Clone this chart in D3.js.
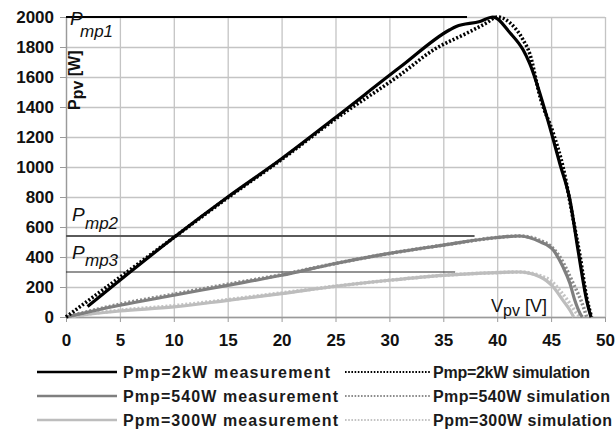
<!DOCTYPE html>
<html>
<head>
<meta charset="utf-8">
<script src="https://cdn.jsdelivr.net/npm/d3@7"></script>
<style>
  body { margin: 0; background: #fff; }
  svg { display: block; }
</style>
</head>
<body>
<div id="chart"></div>
<script>
// Voltage / power pairs
const meas2kV = [2, 5, 10, 15, 20, 25, 31, 35.6, 36.2, 38.4, 39.6, 41.2, 42.4, 43, 44.6, 45.8, 46.75, 47.5, 48.3, 48.6, 48.7];
const meas2kP = [70, 245, 530, 800, 1055, 1330, 1666, 1915, 1937, 1970, 2000, 1893, 1781, 1692, 1336, 1025, 779, 445, 111, 24, 0];

const sim2kV = [0, 5, 10, 15, 20, 25, 31, 34.1, 37.2, 39, 40, 41.2, 42.4, 43, 44, 45.2, 46.1, 47.05, 47.7, 48.3, 48.75];
const sim2kP = [0, 265, 530, 795, 1050, 1320, 1615, 1781, 1893, 1960, 2000, 1960, 1848, 1759, 1460, 1225, 1002, 650, 400, 130, 0];

const meas540V = [0, 5, 10, 15, 20, 25, 30, 35, 40, 42, 44, 45.2, 46.1, 46.75, 47.2, 47.7, 47.9];
const meas540P = [0, 78, 145, 211, 278, 357, 424, 479, 530, 540, 501, 446, 334, 223, 111, 22, 0];

const sim540V = [0, 5, 10, 15, 20, 25, 30, 35, 40, 42, 44, 45, 45.8, 47.05, 48, 48.3];
const sim540P = [0, 85, 152, 218, 282, 357, 424, 479, 530, 540, 510, 470, 401, 223, 67, 0];

const meas300V = [0, 5, 10, 15, 20, 25, 30, 35, 40, 42, 44, 45.2, 46.1, 46.75, 47.1];
const meas300P = [0, 40, 67, 111, 156, 205, 245, 278, 296, 300, 267, 200, 111, 45, 0];

const sim300V = [0, 5, 10, 15, 20, 25, 30, 35, 40, 42, 44, 45, 45.8, 46.75, 47.4, 47.7];
const sim300P = [0, 45, 75, 115, 160, 205, 245, 278, 296, 300, 275, 240, 178, 89, 22, 0];

const seriesNames = [
  "Pmp=2kW measurement", "Pmp=2kW simulation",
  "Pmp=540W measurement", "Pmp=540W simulation",
  "Ppm=300W measurement", "Ppm=300W simulation"
];

// horizontal P_mp marker lines: level and where they stop (V)
const pmpLevels = [2000, 540, 300];
const pmpEnds = [37.2, 37.9, 36.1];
const pmpSubs = ["mp1", "mp2", "mp3"];

const xTicks = d3.range(0, 51, 5);
const yTicks = d3.range(0, 2001, 200);

const W = 615, H = 432;
const plot = { left: 66, right: 605, top: 17, bottom: 317 };

const svg = d3.select("#chart").append("svg")
  .attr("width", W)
  .attr("height", H);

const x = d3.scaleLinear().domain([0, 50]).range([plot.left, plot.right]);
const y = d3.scaleLinear().domain([0, 2000]).range([plot.bottom, plot.top]);

const gridColor = "#c4c4c4";
const tickFont = "'Liberation Sans', Arial, sans-serif";

// Grid
svg.append("g")
  .attr("transform", `translate(0, ${plot.bottom})`)
  .call(d3.axisBottom(x).tickValues(xTicks).tickSize(-(plot.bottom - plot.top)).tickFormat(""))
  .call(g => g.select(".domain").remove())
  .call(g => g.selectAll("line").attr("stroke", gridColor).attr("stroke-width", 1.3));

svg.append("g")
  .attr("transform", `translate(${plot.left}, 0)`)
  .call(d3.axisLeft(y).tickValues(yTicks).tickSize(-(plot.right - plot.left)).tickFormat(""))
  .call(g => g.select(".domain").remove())
  .call(g => g.selectAll("line").attr("stroke", gridColor).attr("stroke-width", 1.3));

// Axes
svg.append("g")
  .attr("transform", `translate(0, ${plot.bottom})`)
  .call(d3.axisBottom(x).tickValues(xTicks).tickSize(5).tickSizeOuter(0).tickPadding(12))
  .call(g => g.select(".domain").attr("stroke", "#9a9a9a").attr("stroke-width", 1.3))
  .call(g => g.selectAll("line").attr("stroke", "#9a9a9a"))
  .call(g => g.selectAll("text")
    .attr("fill", "#111")
    .style("font-family", tickFont)
    .style("font-weight", "bold")
    .style("font-size", "17px"));

svg.append("g")
  .attr("transform", `translate(${plot.left}, 0)`)
  .call(d3.axisLeft(y).tickValues(yTicks).tickSize(6).tickSizeOuter(0).tickPadding(6).tickFormat(d3.format("d")))
  .call(g => g.select(".domain").attr("stroke", "#9a9a9a").attr("stroke-width", 1.3))
  .call(g => g.selectAll("line").attr("stroke", "#9a9a9a"))
  .call(g => g.selectAll("text")
    .attr("fill", "#111")
    .style("font-family", tickFont)
    .style("font-weight", "bold")
    .style("font-size", "17px"));

// Pmp marker lines
const pmpColors = ["#000", "#5a5a5a", "#2a2a2a"];
const pmpWidths = [2, 2, 1.2];
pmpLevels.forEach((lvl, i) => {
  svg.append("line")
    .attr("x1", x(0)).attr("x2", x(pmpEnds[i]))
    .attr("y1", y(lvl)).attr("y2", y(lvl))
    .attr("stroke", pmpColors[i])
    .attr("stroke-width", pmpWidths[i]);
});

// Curves
const series = [
  { V: meas2kV, P: meas2kP, color: "#000000", dash: null, w: 3.2 },
  { V: sim2kV, P: sim2kP, color: "#000000", dash: "2,2", w: 3.6 },
  { V: meas540V, P: meas540P, color: "#7f7f7f", dash: null, w: 3.2 },
  { V: sim540V, P: sim540P, color: "#8c8c8c", dash: "2,2", w: 3.6 },
  { V: meas300V, P: meas300P, color: "#bdbdbd", dash: null, w: 3.2 },
  { V: sim300V, P: sim300P, color: "#c4c4c4", dash: "2,2", w: 3.6 }
];

const line = d3.line()
  .x(d => x(d[0]))
  .y(d => y(d[1]))
  .curve(d3.curveMonotoneX);

// draw light series first so black sits on top
[5, 4, 3, 2, 1, 0].forEach(i => {
  const s = series[i];
  svg.append("path")
    .datum(d3.zip(s.V, s.P))
    .attr("d", line)
    .attr("fill", "none")
    .attr("stroke", s.color)
    .attr("stroke-width", s.w)
    .attr("stroke-dasharray", s.dash)
    .attr("stroke-linejoin", "round");
});

// Pmp labels
const labelFont = "'Liberation Sans', Arial, sans-serif";
const pLabelPos = [
  { px: 70, py: y(2000) + 8, sx: 80, sy: y(2000) + 20 },
  { px: 72, py: y(540) - 15, sx: 85, sy: y(540) - 7 },
  { px: 72, py: y(300) - 13, sx: 85, sy: y(300) - 6 }
];
pmpSubs.forEach((sub, i) => {
  const p = pLabelPos[i];
  const t = svg.append("text")
    .style("font-family", labelFont)
    .style("font-style", "italic")
    .attr("fill", "#111");
  t.append("tspan").attr("x", p.px).attr("y", p.py).style("font-size", "19px").text("P");
  t.append("tspan").attr("x", p.sx).attr("y", p.sy).style("font-size", "17px").text(sub);
});

// Axis titles
const yTitle = svg.append("text")
  .attr("transform", `translate(80, 110) rotate(-90)`)
  .style("font-family", labelFont)
  .style("font-weight", "bold")
  .style("font-size", "16px")
  .attr("fill", "#111");
yTitle.append("tspan").text("P");
yTitle.append("tspan").attr("dy", 3).text("pv");
yTitle.append("tspan").attr("dy", -3).text(" [W]");

const xTitle = svg.append("text")
  .attr("x", 491).attr("y", 312)
  .style("font-family", labelFont)
  .style("font-size", "18px")
  .attr("fill", "#111");
xTitle.append("tspan").text("V");
xTitle.append("tspan").attr("dy", 4).style("font-size", "16px").text("pv");
xTitle.append("tspan").attr("dy", -4).text(" [V]");

// Legend
const legendRowsY = [372, 396, 420];
const legendCols = [
  { x1: 37, x2: 117, tx: 123 },
  { x1: 345, x2: 430, tx: 433 }
];
const legendTextLen = [207, 157, 215, 177, 215, 179];

series.forEach((s, i) => {
  const col = legendCols[i % 2];
  const ly = legendRowsY[Math.floor(i / 2)];
  svg.append("line")
    .attr("x1", col.x1).attr("x2", col.x2)
    .attr("y1", ly).attr("y2", ly)
    .attr("stroke", s.color)
    .attr("stroke-width", s.dash ? 2.2 : 2.6)
    .attr("stroke-dasharray", s.dash ? "1.6,1.6" : null);
  svg.append("text")
    .attr("x", col.tx)
    .attr("y", ly + 6)
    .attr("textLength", legendTextLen[i])
    .attr("lengthAdjust", "spacing")
    .style("font-family", labelFont)
    .style("font-weight", "bold")
    .style("font-size", "16px")
    .attr("fill", "#1a1a1a")
    .text(seriesNames[i]);
});
</script>
</body>
</html>
